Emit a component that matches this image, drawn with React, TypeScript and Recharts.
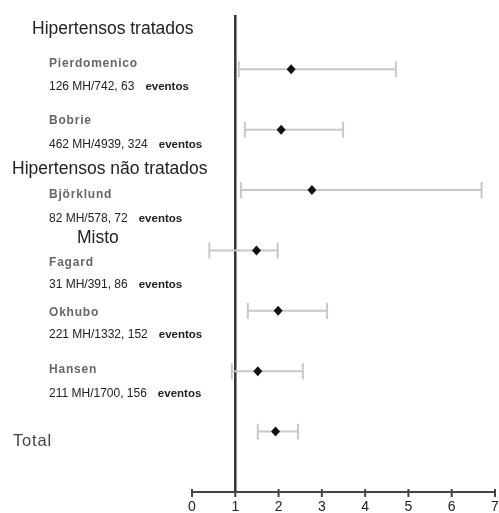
import { ScatterChart, Scatter, XAxis, YAxis, ErrorBar, ReferenceLine } from 'recharts';

const studies = ['Pierdomenico', 'Bobrie', 'Björklund', 'Fagard', 'Okhubo', 'Hansen', 'Total'];
const counts = ['126 MH/742, 63', '462 MH/4939, 324', '82 MH/578, 72', '31 MH/391, 86', '221 MH/1332, 152', '211 MH/1700, 156'];
const estimate = [2.29, 2.06, 2.77, 1.49, 1.99, 1.52, 1.93];
const lower = [1.08, 1.22, 1.13, 0.40, 1.29, 0.92, 1.52];
const upper = [4.71, 3.49, 6.69, 1.98, 3.12, 2.56, 2.45];
const xTicks = [0, 1, 2, 3, 4, 5, 6, 7];

const data = studies.map((name, i) => ({
  name,
  x: estimate[i],
  y: i + 1,
  err: [estimate[i] - lower[i], upper[i] - estimate[i]],
}));

const font = '"Liberation Sans", Arial, sans-serif';

const Diamond = (props: any) => {
  const { cx, cy } = props;
  return <polygon points={`${cx},${cy - 5} ${cx + 4.5},${cy} ${cx},${cy + 5} ${cx - 4.5},${cy}`} fill="#111" />;
};

const Tick = (props: any) => {
  const { x, y, payload } = props;
  return (
    <g>
      <line x1={x} x2={x} y1={y - 3} y2={y + 5} stroke="#444" strokeWidth={2} />
      <text x={x} y={y + 18.5} textAnchor="middle" fontSize={14} fill="#222" fontFamily={font}>{payload.value}</text>
    </g>
  );
};

// left column layout (page coords, chart sits at 0,0)
const nameY = [66.5, 123.5, 197.5, 265.5, 315.5, 372.5];
const countY = [89.5, 147.5, 221.5, 287.5, 337.5, 396.5];

export default function App() {
  return (
    <div style={{ position: 'fixed', top: 0, left: 0, width: 499, height: 513 }}>
      <ScatterChart width={499} height={513} margin={{ top: 15, right: 4, bottom: 0, left: 192 }}
        style={{ fontFamily: font, overflow: 'visible' }}>
        <XAxis type="number" dataKey="x" domain={[0, 7]} ticks={xTicks} height={21} tickLine={false} tickSize={0} tickMargin={0}
          axisLine={{ stroke: '#444', strokeWidth: 2 }} tick={<Tick />} interval={0} />
        <YAxis type="number" dataKey="y" domain={[0.1, 8]} reversed hide />
        <ReferenceLine x={1} stroke="#333" strokeWidth={2.5} />
        <Scatter data={data} shape={<Diamond />} isAnimationActive={false}>
          <ErrorBar dataKey="err" direction="x" width={8} stroke="#c8c8c8" strokeWidth={2} isAnimationActive={false} />
        </Scatter>
        <g fontFamily={font}>
          <text x={32} y={34} fontSize={17.5} fill="#222">Hipertensos tratados</text>
          <text x={12} y={174} fontSize={17.5} fill="#222">Hipertensos não tratados</text>
          <text x={77} y={243} fontSize={17.5} fill="#222">Misto</text>
          <text x={13} y={446} fontSize={16.5} fill="#444" letterSpacing={0.8}>{studies[6]}</text>
          {counts.map((c, i) => (
            <g key={i}>
              <text x={49} y={nameY[i]} fontSize={12} fontWeight="bold" fill="#666" letterSpacing={0.8}>{studies[i]}</text>
              <text x={49} y={countY[i]} fontSize={12} fill="#222">
                {c}
                <tspan dx={11} fontSize={11.5} fontWeight="bold">eventos</tspan>
              </text>
            </g>
          ))}
        </g>
      </ScatterChart>
    </div>
  );
}
